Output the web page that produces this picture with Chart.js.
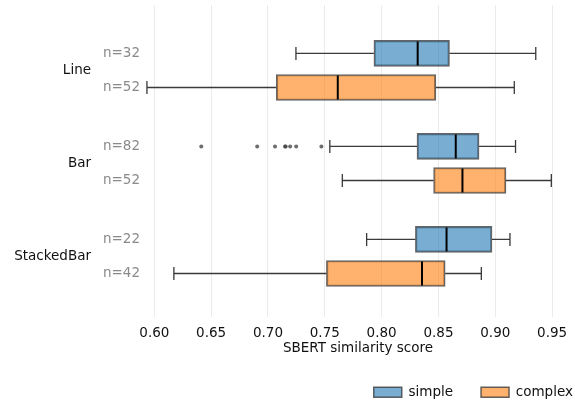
<!DOCTYPE html>
<html>
<head>
<meta charset="utf-8">
<script src="https://cdn.jsdelivr.net/npm/chart.js@4/dist/chart.umd.min.js"></script>
<style>
  html, body { margin: 0; padding: 0; background: #fff; }
  #wrap { width: 575px; height: 401px; }
</style>
</head>
<body>
<div id="wrap"><canvas id="box-chart"></canvas></div>
<script>
// Prompt types (rows) and the sample counts per prompt style
const groups = ['Line', 'Bar', 'StackedBar'];
const simpleN = [32, 82, 22];
const complexN = [52, 52, 42];

// Box summaries: [whisker low, q1, median, q3, whisker high]
const simpleStats = [
    [0.7246, 0.7932, 0.8317, 0.8597, 0.9356],
    [0.7544, 0.8311, 0.8652, 0.8857, 0.9178],
    [0.7868, 0.8297, 0.8571, 0.8971, 0.9129]
];
const complexStats = [
    [0.5935, 0.7073, 0.7614, 0.8477, 0.9167],
    [0.7654, 0.8457, 0.8711, 0.9094, 0.9493],
    [0.6172, 0.7514, 0.8355, 0.8559, 0.8877]
];

// Outliers (only the simple Bar row has them)
const barSimpleOutliers = [0.6413, 0.6905, 0.7062, 0.7150, 0.7156, 0.7195, 0.7248, 0.7470];

const xTicks = [0.60, 0.65, 0.70, 0.75, 0.80, 0.85, 0.90, 0.95];

// Row offset of each hue box from its group centre
const hueOffset = 0.183;
const simplePos = groups.map((g, i) => i - hueOffset);
const complexPos = groups.map((g, i) => i + hueOffset);

const FONT = 'DejaVu Sans';
const BOX = 26;
const LEGEND_DROP = 8;   // push the legend row down to the bottom edge
const LEGEND_SHIFT = 28; // legend sits flush with the right edge

const canvas = document.getElementById('box-chart');

// no extra label padding, chart area is set by the axis widths only
function noPad(scale) {
    scale.paddingTop = 0;
    scale.paddingBottom = 0;
    scale.paddingLeft = 0;
    scale.paddingRight = 0;
}

// Draw whiskers (behind boxes) and medians (on top) from the scales
const boxPlotLines = {
    id: 'boxPlotLines',
    afterLayout(chart) {
        chart.legend.left += LEGEND_SHIFT;
        chart.legend.right += LEGEND_SHIFT;
    },
    beforeDatasetsDraw(chart) {
        const ctx = chart.ctx;
        const xs = chart.scales.x, ys = chart.scales.y;
        ctx.save();
        ctx.strokeStyle = '#3a3a3a';
        ctx.lineWidth = 1.3;
        const draw = (stats, pos) => {
            stats.forEach((s, i) => {
                const y = ys.getPixelForValue(pos[i]);
                const lo = xs.getPixelForValue(s[0]), q1 = xs.getPixelForValue(s[1]);
                const q3 = xs.getPixelForValue(s[3]), hi = xs.getPixelForValue(s[4]);
                ctx.beginPath();
                ctx.moveTo(lo, y); ctx.lineTo(q1, y);
                ctx.moveTo(q3, y); ctx.lineTo(hi, y);
                ctx.moveTo(lo, y - BOX / 4); ctx.lineTo(lo, y + BOX / 4);
                ctx.moveTo(hi, y - BOX / 4); ctx.lineTo(hi, y + BOX / 4);
                ctx.stroke();
            });
        };
        draw(simpleStats, simplePos);
        draw(complexStats, complexPos);
        ctx.restore();
    },
    afterDatasetsDraw(chart) {
        const ctx = chart.ctx;
        const xs = chart.scales.x, ys = chart.scales.y;
        ctx.save();
        ctx.strokeStyle = '#000';
        ctx.lineWidth = 2;
        const draw = (stats, pos) => {
            stats.forEach((s, i) => {
                const y = ys.getPixelForValue(pos[i]);
                const m = xs.getPixelForValue(s[2]);
                ctx.beginPath();
                ctx.moveTo(m, y - BOX / 2 + 1); ctx.lineTo(m, y + BOX / 2 - 1);
                ctx.stroke();
            });
        };
        draw(simpleStats, simplePos);
        draw(complexStats, complexPos);
        ctx.restore();
    }
};

const boxChart = new Chart(canvas.getContext('2d'), {
    type: 'bar',
    data: {
        datasets: [
            {
                label: 'simple',
                grouped: false,
                barThickness: BOX,
                data: simpleStats.map((s, i) => ({ x: [s[1], s[3]], y: simplePos[i] })),
                backgroundColor: 'rgba(31, 119, 180, 0.6)',
                borderColor: 'rgba(50, 50, 50, 0.75)',
                borderWidth: 1.5,
                borderSkipped: false
            },
            {
                label: 'complex',
                grouped: false,
                barThickness: BOX,
                data: complexStats.map((s, i) => ({ x: [s[1], s[3]], y: complexPos[i] })),
                backgroundColor: 'rgba(255, 127, 14, 0.6)',
                borderColor: 'rgba(50, 50, 50, 0.75)',
                borderWidth: 1.5,
                borderSkipped: false
            },
            {
                type: 'scatter',
                label: 'outliers',
                data: barSimpleOutliers.map(v => ({ x: v, y: simplePos[1] })),
                pointRadius: 2,
                pointBackgroundColor: 'rgba(60, 60, 60, 0.75)',
                pointBorderWidth: 0
            }
        ]
    },
    options: {
        indexAxis: 'y',
        responsive: true,
        maintainAspectRatio: false,
        animation: false,
        layout: { padding: { top: 5, right: 2, left: 0, bottom: -LEGEND_DROP } },
        scales: {
            x: {
                type: 'linear',
                offset: false,
                min: 0.5918,
                max: 0.9666,
                afterBuildTicks: (scale) => { scale.ticks = xTicks.map(v => ({ value: v })); },
                afterFit: (scale) => {
                    noPad(scale);
                    scale.height = 401 + LEGEND_DROP - 317 - scale.chart.legend.height;
                },
                ticks: {
                    color: '#111',
                    padding: 8,
                    font: { family: FONT, size: 13.5 },
                    callback: (v) => v.toFixed(2)
                },
                grid: { color: '#ebebeb', lineWidth: 1, drawTicks: false, offset: false },
                border: { display: false },
                title: {
                    display: true,
                    text: 'SBERT similarity score',
                    color: '#111',
                    font: { family: FONT, size: 13.5 },
                    padding: { top: 0, bottom: 1 }
                }
            },
            y: {
                type: 'linear',
                offset: false,
                position: 'left',
                reverse: true,
                min: -0.704,
                max: 2.651,
                weight: 0,
                afterBuildTicks: (scale) => {
                    scale.ticks = simplePos.concat(complexPos).map(v => ({ value: v }));
                },
                afterFit: (scale) => { noPad(scale); scale.width = 45; },
                ticks: {
                    color: '#8a8a8a',
                    padding: 5,
                    font: { family: FONT, size: 13.5 },
                    callback: (v) => {
                        let i = simplePos.findIndex(p => Math.abs(p - v) < 1e-6);
                        if (i >= 0) return 'n=' + simpleN[i];
                        i = complexPos.findIndex(p => Math.abs(p - v) < 1e-6);
                        return 'n=' + complexN[i];
                    }
                },
                grid: { display: false, drawTicks: false, offset: false },
                border: { display: false }
            },
            y2: {
                type: 'linear',
                offset: false,
                position: 'left',
                reverse: true,
                min: -0.704,
                max: 2.651,
                weight: 1,
                afterBuildTicks: (scale) => { scale.ticks = groups.map((g, i) => ({ value: i })); },
                afterFit: (scale) => { noPad(scale); scale.width = 100; },
                ticks: {
                    color: '#111',
                    padding: 9,
                    font: { family: FONT, size: 13.5 },
                    callback: (v) => groups[Math.round(v)]
                },
                grid: { display: false, drawTicks: false, offset: false },
                border: { display: false }
            }
        },
        plugins: {
            legend: {
                position: 'bottom',
                align: 'end',
                labels: {
                    boxWidth: 28,
                    boxHeight: 10,
                    padding: 28,
                    color: '#111',
                    font: { family: FONT, size: 13.5 },
                    filter: (item) => item.text !== 'outliers'
                }
            },
            tooltip: { enabled: false }
        }
    },
    plugins: [boxPlotLines]
});
</script>
</body>
</html>
